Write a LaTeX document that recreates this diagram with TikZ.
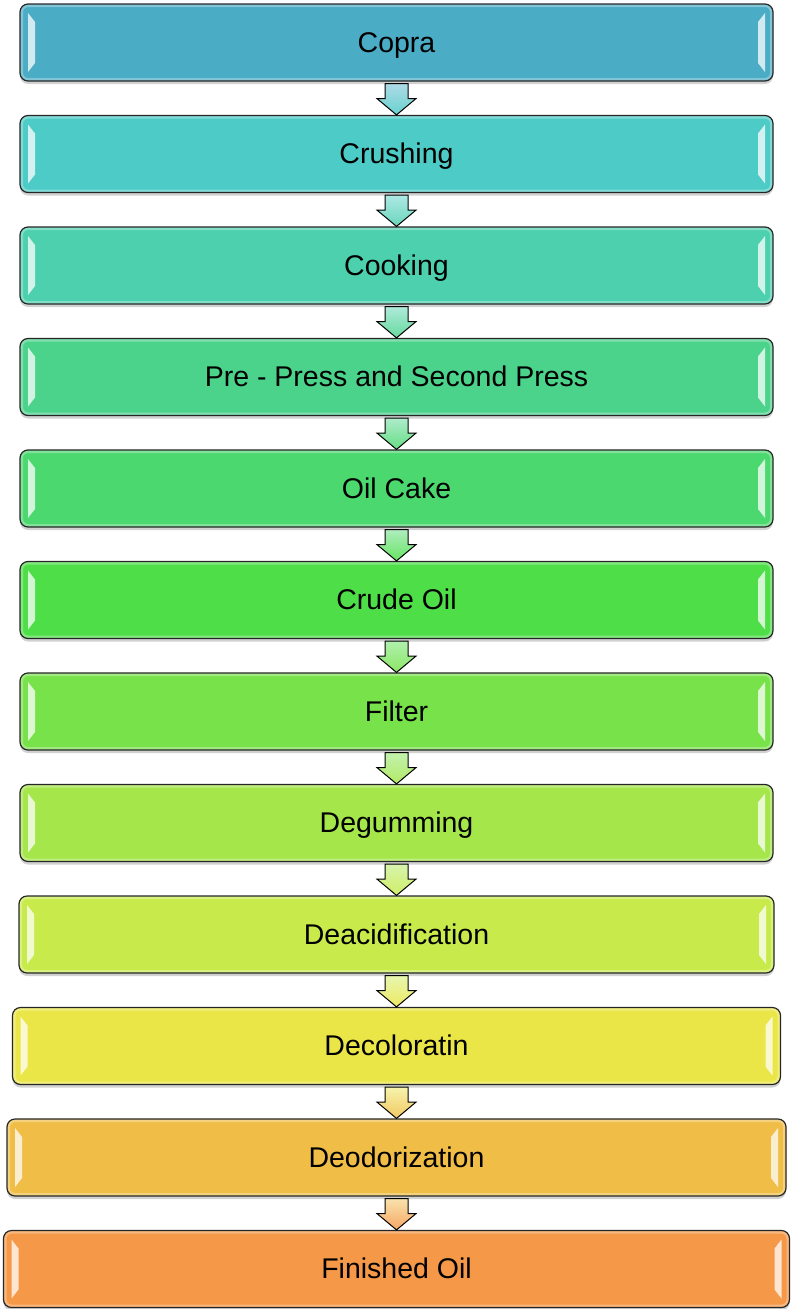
\documentclass[tikz,border=0pt]{standalone}
\usepackage{fontspec}
\setmainfont{Liberation Sans}
\usetikzlibrary{positioning, calc, shadows}

\definecolor{copraC}{HTML}{4BACC6}
\definecolor{crushC}{HTML}{4DCBC6}
\definecolor{cookC}{HTML}{4DD0AE}
\definecolor{pressC}{HTML}{4BD38C}
\definecolor{cakeC}{HTML}{4BD86E}
\definecolor{crudeC}{HTML}{4EDF48}
\definecolor{filterC}{HTML}{78E24B}
\definecolor{degumC}{HTML}{A5E64B}
\definecolor{deacidC}{HTML}{C8EB4B}
\definecolor{decolC}{HTML}{EBE647}
\definecolor{deodorC}{HTML}{F0BE47}
\definecolor{finishC}{HTML}{F59848}

\tikzset{
  stepbox/.style={draw=black!85, line width=1.2pt, rounded corners=8pt,
    fill=#1, minimum width=753pt, minimum height=77pt, inner sep=0pt,
    text height=24pt, text depth=4.5pt,
    font=\fontsize{28.5}{34}\selectfont,
    drop shadow={shadow xshift=0pt, shadow yshift=-3pt, opacity=.3, fill=black!60},
    path picture={
      \draw[white, opacity=.3, line width=6pt]
        (path picture bounding box.north west) rectangle (path picture bounding box.south east);
      \fill[white, opacity=.75, sharp corners]
        ($(path picture bounding box.north west)+(8pt,-9pt)$) -- ($(path picture bounding box.north west)+(15pt,-18pt)$)
        -- ($(path picture bounding box.south west)+(15pt,18pt)$) -- ($(path picture bounding box.south west)+(8pt,9pt)$) -- cycle;
      \fill[white, opacity=.75, sharp corners]
        ($(path picture bounding box.north east)+(-8pt,-9pt)$) -- ($(path picture bounding box.north east)+(-15pt,-18pt)$)
        -- ($(path picture bounding box.south east)+(-15pt,18pt)$) -- ($(path picture bounding box.south east)+(-8pt,9pt)$) -- cycle;
    }},
}

% block arrow from the bottom of one step to the top of the next
\newcommand\flowarrow[4]{%
  \draw[line width=1pt, top color=#3!45!white, bottom color=#4!85!white]
    ($(#1.south)+(-11.5pt,-2pt)$) -- ($(#1.south)+(11.5pt,-2pt)$)
    -- ($(#1.south)+(11.5pt,-17pt)$) -- ($(#1.south)+(19.5pt,-17pt)$)
    -- (#2.north)
    -- ($(#1.south)+(-19.5pt,-17pt)$) -- ($(#1.south)+(-11.5pt,-17pt)$) -- cycle;}

\begin{document}
\begin{tikzpicture}
  \useasboundingbox (0,0) rectangle (790pt,-1309pt);

  \node[stepbox=copraC] (copra) at (396.5pt,-42.5pt) {Copra};
  \node[stepbox=crushC, below = 33.3pt of copra] (crush) {Crushing};
  \node[stepbox=cookC, below = 33.3pt of crush] (cook) {Cooking};
  \node[stepbox=pressC, below = 33.3pt of cook] (press) {Pre - Press and Second Press};
  \node[stepbox=cakeC, below = 33.3pt of press] (cake) {Oil Cake};
  \node[stepbox=crudeC, below = 33.3pt of cake] (crude) {Crude Oil};
  \node[stepbox=filterC, below = 33.3pt of crude] (filter) {Filter};
  \node[stepbox=degumC, below = 33.3pt of filter] (degum) {Degumming};
  \node[stepbox=deacidC, minimum width=755pt, below = 33.3pt of degum] (deacid) {Deacidification};
  \node[stepbox=decolC, minimum width=768pt, below = 33.3pt of deacid] (decol) {Decoloratin};
  \node[stepbox=deodorC, minimum width=779pt, below = 33.3pt of decol] (deodor) {Deodorization};
  \node[stepbox=finishC, minimum width=786pt, below = 33.3pt of deodor] (finish) {Finished Oil};

  \flowarrow{copra}{crush}{copraC}{crushC}
  \flowarrow{crush}{cook}{crushC}{cookC}
  \flowarrow{cook}{press}{cookC}{pressC}
  \flowarrow{press}{cake}{pressC}{cakeC}
  \flowarrow{cake}{crude}{cakeC}{crudeC}
  \flowarrow{crude}{filter}{crudeC}{filterC}
  \flowarrow{filter}{degum}{filterC}{degumC}
  \flowarrow{degum}{deacid}{degumC}{deacidC}
  \flowarrow{deacid}{decol}{deacidC}{decolC}
  \flowarrow{decol}{deodor}{decolC}{deodorC}
  \flowarrow{deodor}{finish}{deodorC}{finishC}
\end{tikzpicture}
\end{document}
